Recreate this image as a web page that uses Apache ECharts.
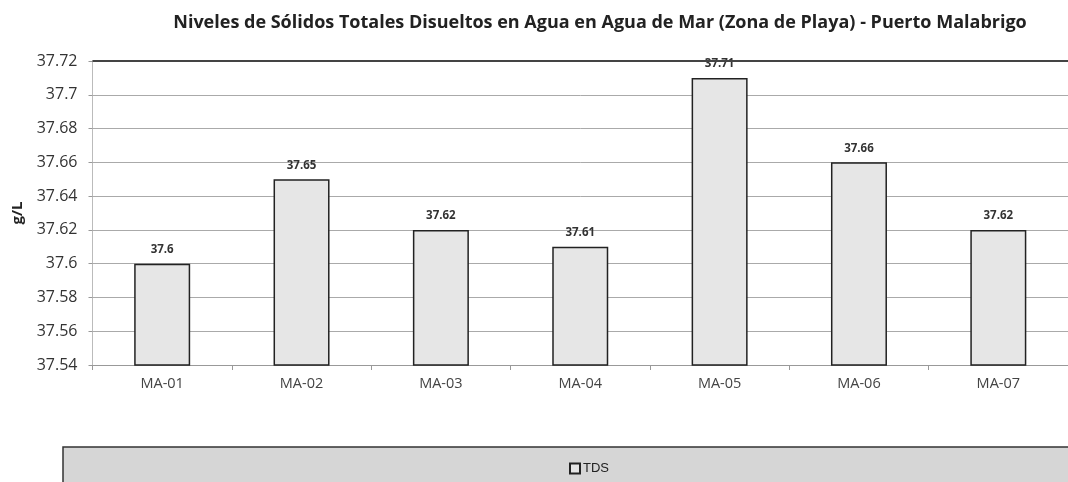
<!DOCTYPE html>
<html>
<head>
<meta charset="utf-8">
<script src="https://cdn.jsdelivr.net/npm/echarts@6/dist/echarts.min.js"></script>
<style>
  html, body { margin: 0; padding: 0; background: #fff; }
  #chart { width: 1068px; height: 482px; }
</style>
</head>
<body>
<div id="chart"></div>
<script>
const categories = ['MA-01', 'MA-02', 'MA-03', 'MA-04', 'MA-05', 'MA-06', 'MA-07'];
const tdsValues = [37.6, 37.65, 37.62, 37.61, 37.71, 37.66, 37.62];

const chart = echarts.init(document.getElementById('chart'));

const option = {
  backgroundColor: '#fff',
  animation: false,
  title: {
    text: 'Niveles de Sólidos Totales Disueltos en Agua en Agua de Mar (Zona de Playa) - Puerto Malabrigo',
    left: 595,
    textAlign: 'center',
    top: 9,
    textStyle: { fontFamily: 'Open Sans', fontSize: 18, fontWeight: 'bold', color: '#222' }
  },
  graphic: [
    {
      type: 'rect',
      shape: { x: 63, y: 447, width: 1010, height: 40 },
      style: { fill: '#d6d6d6', stroke: '#333', lineWidth: 1.5 },
      z: 0
    },
    {
      // eje y: titulo "g/L" colocado a mano junto a las etiquetas
      type: 'text',
      x: 18,
      y: 213,
      rotation: Math.PI / 2,
      style: {
        text: 'g/L',
        fontFamily: 'Open Sans', fontSize: 15, fontWeight: 'bold', fill: '#222',
        align: 'center', verticalAlign: 'middle'
      }
    }
  ],
  legend: {
    left: 564,
    top: 457,
    itemWidth: 10,
    itemHeight: 10,
    itemGap: 4,
    textStyle: { fontFamily: 'Liberation Sans Narrow, Liberation Sans', fontSize: 13, color: '#222', padding: [0, 0, 0, -2] },
    data: [{ name: 'TDS', icon: 'rect' }]
  },
  grid: { left: 92.5, right: -4.5, top: 61, bottom: 117 },
  xAxis: {
    type: 'category',
    data: categories,
    axisLine: { lineStyle: { color: '#999' } },
    axisTick: { show: true, lineStyle: { color: '#999' } },
    axisLabel: { fontFamily: 'Open Sans', fontSize: 14.5, color: '#444', margin: 11 }
  },
  yAxis: {
    type: 'value',
    min: 37.54,
    max: 37.72,
    interval: 0.02,
    axisLine: { show: true, lineStyle: { color: '#bbb' } },
    axisTick: { show: true, length: 4, lineStyle: { color: '#999' } },
    axisLabel: {
      fontFamily: 'Open Sans', fontSize: 16, color: '#333', margin: 15,
      formatter: v => String(+v.toFixed(2))
    },
    splitLine: { lineStyle: { color: '#aaa', width: 1 } }
  },
  series: [
    {
      name: 'TDS',
      type: 'bar',
      data: tdsValues,
      barWidth: 56,
      itemStyle: { color: '#e6e6e6', borderColor: '#222', borderWidth: 1.5 },
      label: {
        show: true,
        position: 'top',
        distance: 8,
        fontFamily: 'Open Sans',
        fontSize: 11.5,
        fontWeight: 'bold',
        color: '#333',
        formatter: p => String(p.value)
      },
      markLine: {
        silent: true,
        symbol: 'none',
        label: { show: false },
        lineStyle: { color: '#444', width: 2, type: 'solid' },
        data: [{ yAxis: 37.72 }]
      }
    }
  ]
};

chart.setOption(option);
</script>
</body>
</html>
